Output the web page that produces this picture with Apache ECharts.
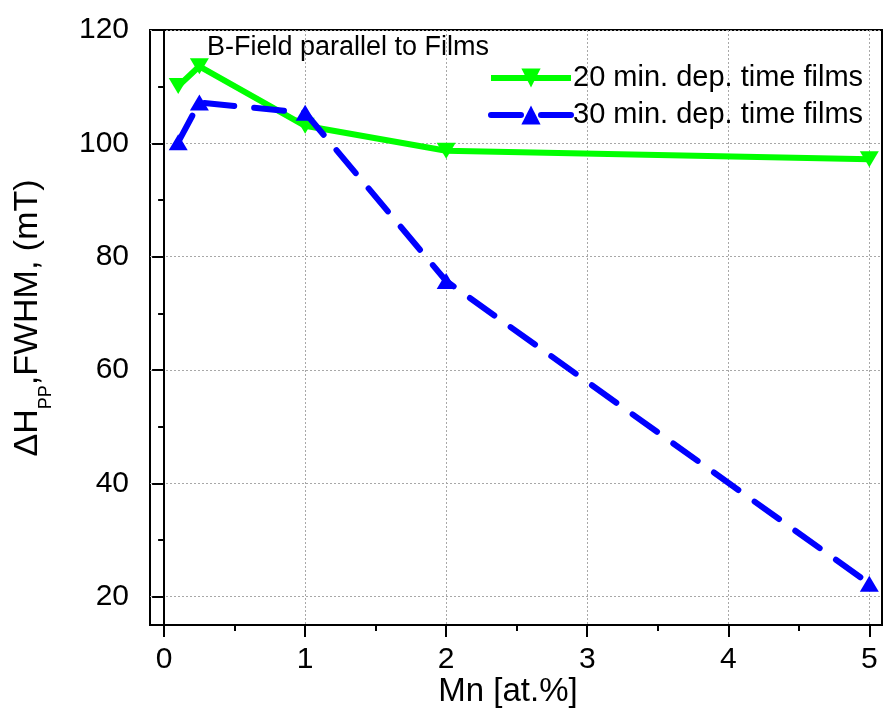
<!DOCTYPE html>
<html><head><meta charset="utf-8">
<script src="https://cdn.jsdelivr.net/npm/echarts@6/dist/echarts.min.js"></script>
<style>html,body{margin:0;padding:0;background:#fff}#c{width:883px;height:711px}</style>
</head><body><div id="c"></div>
<script>
// ---- data ----
const mnContent = [0.1, 0.25, 1, 2, 5];
const fwhm20 = [110.1, 113.6, 103.1, 98.7, 97.2];
const fwhm30 = [100.2, 107.2, 105.4, 75.7, 22.3];
const seriesNames = ['20 min. dep. time films', '30 min. dep. time films'];
const xTicks = [0, 1, 2, 3, 4, 5];
const xMinorTicks = [0.5, 1.5, 2.5, 3.5, 4.5];
const yTicks = [20, 40, 60, 80, 100, 120];
const yMinorTicks = [30, 50, 70, 90, 110];
const annotationText = 'B-Field parallel to Films';
const xTitle = 'Mn [at.%]';
const yTitleRich = '{a|ΔH}{s|PP}{a|,FWHM, (mT)}';

const FONT = '"Liberation Sans", Arial, sans-serif';
const pairs = (xs, ys) => xs.map((x, i) => [x, ys[i]]);

const chart = echarts.init(document.getElementById('c'), null, {renderer: 'canvas'});
const gridLine = {show: true, lineStyle: {color: '#a8a8a8', width: 1, type: [2, 2]}};
chart.setOption({
  animation: false,
  backgroundColor: '#fff',
  grid: {left: 150, top: 30, right: 1, bottom: 86, show: true, borderColor: '#000', borderWidth: 2},
  xAxis: [{
    type: 'value', min: -0.1, max: 5.09, position: 'bottom',
    axisLine: {show: true, lineStyle: {color: '#000', width: 2}},
    axisTick: {show: true, inside: false, length: 12, customValues: xTicks, lineStyle: {color: '#000', width: 2}},
    axisLabel: {customValues: xTicks, color: '#000', fontSize: 30, fontFamily: FONT, margin: 20},
    splitLine: gridLine
  }, {
    type: 'value', min: -0.1, max: 5.09, position: 'bottom',
    axisLine: {show: false},
    axisTick: {show: true, inside: false, length: 6, customValues: xMinorTicks, lineStyle: {color: '#000', width: 2}},
    axisLabel: {show: false},
    splitLine: {show: false}
  }],
  yAxis: [{
    type: 'value', min: 15, max: 120, position: 'left',
    axisLine: {show: true, lineStyle: {color: '#000', width: 2}},
    axisTick: {show: true, inside: false, length: 12, customValues: yTicks, lineStyle: {color: '#000', width: 2}},
    axisLabel: {customValues: yTicks, color: '#000', fontSize: 30, fontFamily: FONT, margin: 21},
    splitLine: gridLine
  }, {
    type: 'value', min: 15, max: 120, position: 'left',
    axisLine: {show: false},
    axisTick: {show: true, inside: false, length: 6, customValues: yMinorTicks, lineStyle: {color: '#000', width: 2}},
    axisLabel: {show: false},
    splitLine: {show: false}
  }],
  legend: {
    orient: 'vertical', left: 483, top: 58,
    itemWidth: 80, itemHeight: 24, itemGap: 7,
    data: seriesNames,
    lineStyle: {width: 6},
    textStyle: {color: '#000', fontSize: 29, fontFamily: FONT, lineHeight: 30, padding: [0, 0, 0, -3]}
  },
  series: [{
    name: seriesNames[0], type: 'line', data: pairs(mnContent, fwhm20),
    symbol: 'triangle', symbolRotate: 180, symbolSize: [19, 16],
    lineStyle: {color: '#00ff00', width: 6},
    itemStyle: {color: '#00ff00'}, z: 2
  }, {
    name: seriesNames[1], type: 'line', data: pairs(mnContent, fwhm30),
    symbol: 'triangle', symbolSize: [19, 16],
    lineStyle: {color: '#0000ff', width: 6, type: [30, 20], cap: 'round'},
    itemStyle: {color: '#0000ff'}, z: 3
  }],
  graphic: [{
    type: 'text', x: 207, y: 48,
    style: {text: annotationText, fill: '#000', fontSize: 27, fontFamily: FONT, align: 'left', verticalAlign: 'middle'}
  }, {
    type: 'text', x: 508, y: 692,
    style: {text: xTitle, fill: '#000', fontSize: 33, fontFamily: FONT, align: 'center', verticalAlign: 'middle'}
  }, {
    type: 'text', x: 28, y: 318, rotation: Math.PI / 2,
    style: {
      text: yTitleRich, fill: '#000', align: 'center', verticalAlign: 'middle',
      rich: {
        a: {fontSize: 34, fontFamily: FONT, lineHeight: 34, verticalAlign: 'top', fill: '#000'},
        s: {fontSize: 18, fontFamily: FONT, lineHeight: 18, verticalAlign: 'top', padding: [26, 0, 0, 0], fill: '#000'}
      }
    }
  }]
});
</script>
</body></html>
